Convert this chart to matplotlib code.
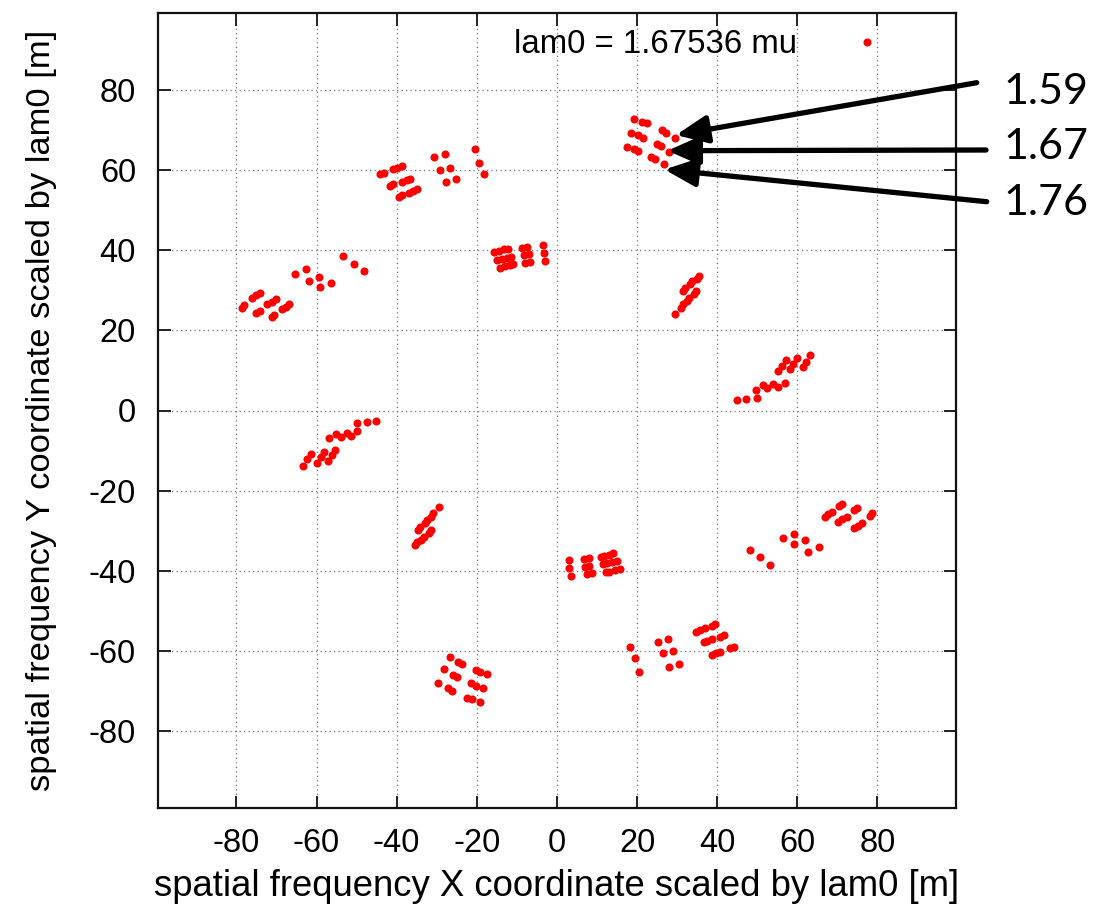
import numpy as np
import matplotlib
matplotlib.use("Agg")
import matplotlib.pyplot as plt
from matplotlib.lines import Line2D

# ---- data: scaled (u, v) points for one half of the uv plane; the other half is the conjugate (-u, -v)
u_half = [
    # cluster near (20, 68)
    19.2, 21.3, 22.5, 18.4, 20.2, 21.5, 17.4, 19.2, 20.2,
    26.3, 27.3, 29.6, 24.9, 25.9, 28.1, 23.6, 24.6, 26.7,
    # cluster near (-40, 57)
    -44.1, -43.1, -40.8, -39.8, -38.7, -41.6, -40.8, -38.7, -37.5, -36.6,
    -39.5, -38.7, -37.0, -35.8, -34.8,
    -30.6, -28.0, -29.1, -26.6, -27.7, -25.3,
    -20.4, -19.4, -18.3,
    # cluster near (-70, 28)
    -53.3, -50.6, -48.1,
    -65.4, -62.6, -62.0, -59.3, -59.1, -56.5,
    -76.2, -75.1, -74.1, -72.3, -71.2, -70.2,
    -78.7, -78.1, -75.0, -74.1, -68.7, -67.7, -66.8, -71.2, -70.5,
    # cluster near (-10, 38)
    -15.8, -14.5, -13.1, -12.3, -14.95, -13.7, -12.5, -11.5,
    -14.1, -12.9, -11.8, -11.0,
    -8.7, -7.5, -8.1, -7.05, -7.9, -6.8,
    -3.5, -3.1, -3.05,
    # cluster near (32, 29)
    29.4, 30.9, 31.5, 31.5, 31.9, 32.5, 32.9, 33.2, 33.8, 34.2, 34.6, 35.0, 35.45,
    # cluster near (55, 8)
    45.05, 47.3, 49.9, 49.8, 51.5, 52.5, 54.0, 55.2, 56.9,
    55.3, 56.1, 57.1, 58.1, 59.0, 59.9, 61.5, 62.3, 63.3,
]
v_half = [
    72.9, 72.2, 71.75, 69.25, 68.75, 68.0, 65.9, 65.25, 64.8,
    70.1, 69.4, 68.0, 66.7, 66.1, 64.6, 63.4, 62.9, 61.5,
    59.0, 59.4, 60.25, 60.7, 61.1, 56.1, 56.5, 57.2, 57.6, 57.9,
    53.3, 53.75, 54.4, 54.8, 55.25,
    63.4, 64.0, 60.0, 60.7, 57.2, 57.75,
    65.25, 61.9, 59.0,
    38.6, 36.7, 34.9,
    34.0, 35.3, 32.3, 33.4, 30.75, 31.8,
    28.2, 28.8, 29.4, 26.5, 27.2, 27.9,
    25.7, 26.25, 24.25, 24.8, 25.25, 25.9, 26.5, 23.3, 23.8,
    39.6, 39.9, 40.25, 40.4, 37.6, 37.9, 38.2, 38.3,
    35.7, 36.0, 36.25, 36.5,
    40.7, 40.9, 38.75, 39.0, 36.9, 37.2,
    41.3, 39.25, 37.3,
    24.2, 25.7, 26.5, 29.8, 30.5, 27.3, 28.2, 31.5, 32.3, 29.0, 29.8, 32.75, 33.6,
    2.6, 2.75, 3.0, 5.1, 6.3, 5.5, 6.5, 5.8, 6.9,
    9.8, 11.1, 12.6, 10.4, 11.7, 13.2, 10.9, 12.2, 13.8,
]

legend_label = "lam0 = 1.67536 mu"
wavelength_labels = ["1.59", "1.67", "1.76"]
xticks = [-80, -60, -40, -20, 0, 20, 40, 60, 80]
yticks = [-80, -60, -40, -20, 0, 20, 40, 60, 80]
xlabel = "spatial frequency X coordinate scaled by lam0 [m]"
ylabel = "spatial frequency Y coordinate scaled by lam0 [m]"

u_all = np.concatenate([np.array(u_half), -np.array(u_half)])
v_all = np.concatenate([np.array(v_half), -np.array(v_half)])

plt.rcParams['font.family'] = ['Liberation Sans', 'DejaVu Sans']
FS = 23.5

W, H = 1105, 910
fig = plt.figure(figsize=(W / 100, H / 100), dpi=100)
ax = fig.add_axes([158.3 / W, (H - 808.3) / H, (955.5 - 158.3) / W, (808.3 - 12.7) / H])

MS = 5.8
ax.plot(u_all, v_all, linestyle='none', marker='o', markersize=MS,
        color='#ff0000', markeredgewidth=0)

ax.set_xlim(-99.5, 99.5)
ax.set_ylim(-99.4, 99.4)
ax.set_xticks(xticks)
ax.set_yticks(yticks)
ax.set_xticklabels([str(t) for t in xticks])
ax.set_yticklabels([str(t) for t in yticks])
ax.tick_params(direction='in', length=9, width=1.4, top=True, right=True,
               labelsize=FS, color='#222222')
ax.tick_params(axis='y', pad=16)
ax.tick_params(axis='x', pad=14)
for sp in ax.spines.values():
    sp.set_linewidth(1.6)
    sp.set_color('#111111')

ax.grid(True, color='#777777', linewidth=0.9, linestyle=(0, (1, 2.6)))
ax.set_axisbelow(True)

ax.set_xlabel(xlabel, fontsize=26.3, va='center')
ax.xaxis.set_label_coords(0.5, (808.3 - 886) / (808.3 - 12.7))
ax.set_ylabel(ylabel, fontsize=24.8, va='center')
ax.yaxis.set_label_coords((42 - 158.3) / (955.5 - 158.3), 0.5)

handle = Line2D([], [], linestyle='none', marker='o', markersize=MS,
                color='#ff0000', markeredgewidth=0)
leg = ax.legend([handle], [legend_label], loc='upper right', frameon=False,
                markerfirst=False, fontsize=23.8, handlelength=1.0,
                handletextpad=1.62, borderaxespad=0.0,
                bbox_to_anchor=((897 - 158.3) / (955.5 - 158.3), 1 - (16 - 12.7) / (808.3 - 12.7)))

# arrows pointing to the three wavelength rows (figure pixel coords, origin bottom-left)
tails = [(976.7, H - 82.7), (986.0, H - 150.0), (986.7, H - 201.7)]
tips = [(676.0, H - 135.0), (667.5, H - 150.7), (664.5, H - 169.5)]
baselines = [H - 103.5, H - 159.0, H - 215.0]
for lab, tail, tip, yb in zip(wavelength_labels, tails, tips, baselines):
    ax.annotate('', xy=tip, xycoords='figure pixels', xytext=tail,
                textcoords='figure pixels', annotation_clip=False,
                arrowprops=dict(arrowstyle='-|>,head_length=0.95,head_width=0.42',
                                mutation_scale=20, lw=3.8, color='black',
                                shrinkA=0, shrinkB=0))
    fig.text(1003 / W, yb / H, lab, fontsize=31, family=['Lato', 'DejaVu Sans'],
             ha='left', va='baseline', color='black')

fig.savefig('out.png', dpi=100)
